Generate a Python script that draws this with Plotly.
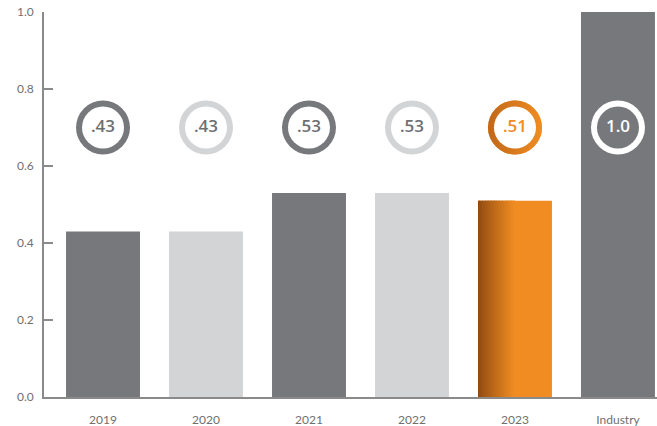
import plotly.graph_objects as go

# Ratio by year, with the industry benchmark as the last column
categories = ["2019", "2020", "2021", "2022", "2023", "Industry"]
values = [0.43, 0.43, 0.53, 0.53, 0.51, 1.0]
badge_labels = [".43", ".43", ".53", ".53", ".51", "1.0"]
y_ticks = [0.0, 0.2, 0.4, 0.6, 0.8, 1.0]

DARK = "#77787c"
LIGHT = "#d3d4d6"
ORANGE = "#f08c22"
BROWN = "#8c4810"
RING_SHADE = "#c0681a"
TEXT_GREY = "#6e6f73"
AXIS = "#8a8a8a"
TICK_TEXT = "#707070"

bar_colors = [DARK, LIGHT, DARK, LIGHT, ORANGE, DARK]
ring_colors = [DARK, LIGHT, DARK, LIGHT, ORANGE, "#ffffff"]
inner_colors = ["#ffffff"] * 5 + [DARK]
label_colors = [TEXT_GREY, TEXT_GREY, TEXT_GREY, TEXT_GREY, ORANGE, "#ffffff"]

BAR_W = 0.718
BADGE_Y = 0.7
xs = list(range(len(categories)))

fig = go.Figure()

fig.add_trace(go.Bar(
    x=xs, y=values, width=BAR_W,
    marker=dict(color=bar_colors, line=dict(width=0)),
    hoverinfo="skip",
))

# Shaded left edge on the highlighted (2023) bar, built from thin slices
def mix(c1, c2, t):
    a = [int(c1[i:i + 2], 16) for i in (1, 3, 5)]
    b = [int(c2[i:i + 2], 16) for i in (1, 3, 5)]
    return "rgb(%d,%d,%d)" % tuple(round(a[k] + (b[k] - a[k]) * t) for k in range(3))

hi = categories.index("2023")
n_slices = 24
shade_span = BAR_W * 0.5
sw = shade_span / n_slices
for i in range(n_slices):
    t = (i + 0.5) / n_slices
    fig.add_trace(go.Bar(
        x=[hi], y=[values[hi]], width=sw * 1.15,
        offset=-BAR_W / 2 + i * sw,
        marker=dict(color=mix(BROWN, ORANGE, t ** 0.9), line=dict(width=0)),
        hoverinfo="skip",
    ))

# Badge rings: outer disk + inner disk + label
fig.add_trace(go.Scatter(
    x=xs, y=[BADGE_Y] * len(xs), mode="markers",
    marker=dict(size=54, color=ring_colors, line=dict(width=0)),
    hoverinfo="skip",
))
fig.add_trace(go.Scatter(
    x=[hi], y=[BADGE_Y], mode="markers",
    marker=dict(size=54, color=RING_SHADE, line=dict(width=0),
                gradient=dict(type="horizontal", color=ORANGE)),
    hoverinfo="skip",
))
fig.add_trace(go.Scatter(
    x=xs, y=[BADGE_Y] * len(xs), mode="markers",
    marker=dict(size=42, color=inner_colors, line=dict(width=0)),
    hoverinfo="skip",
))
fig.add_trace(go.Scatter(
    x=xs, y=[BADGE_Y] * len(xs), mode="text",
    text=badge_labels, textposition="middle center",
    textfont=dict(family="Open Sans", size=17, color=label_colors, weight=600),
    hoverinfo="skip",
))

fig.update_layout(
    width=657, height=426,
    margin=dict(l=44, r=0, t=12, b=29),
    paper_bgcolor="white", plot_bgcolor="white",
    barmode="overlay", showlegend=False,
    font=dict(family="Lato", color=TICK_TEXT, size=12),
)
fig.update_xaxes(
    tickmode="array", tickvals=xs, ticktext=categories,
    range=[-0.573, 5.379], showgrid=False, zeroline=False,
    showline=True, linecolor=AXIS, linewidth=1.5,
    ticks="", ticklabelstandoff=11,
    tickfont=dict(family="Lato", size=12, color=TICK_TEXT),
)
fig.update_yaxes(
    range=[0, 1], tickvals=y_ticks, ticktext=["%.1f" % v for v in y_ticks],
    showgrid=False, zeroline=False,
    showline=True, linecolor=AXIS, linewidth=1.5,
    ticks="inside", ticklen=9, tickcolor=AXIS, tickwidth=1.5,
    ticklabelstandoff=6,
    tickfont=dict(family="Lato", size=12, color=TICK_TEXT),
)

fig.write_html("out.html")
